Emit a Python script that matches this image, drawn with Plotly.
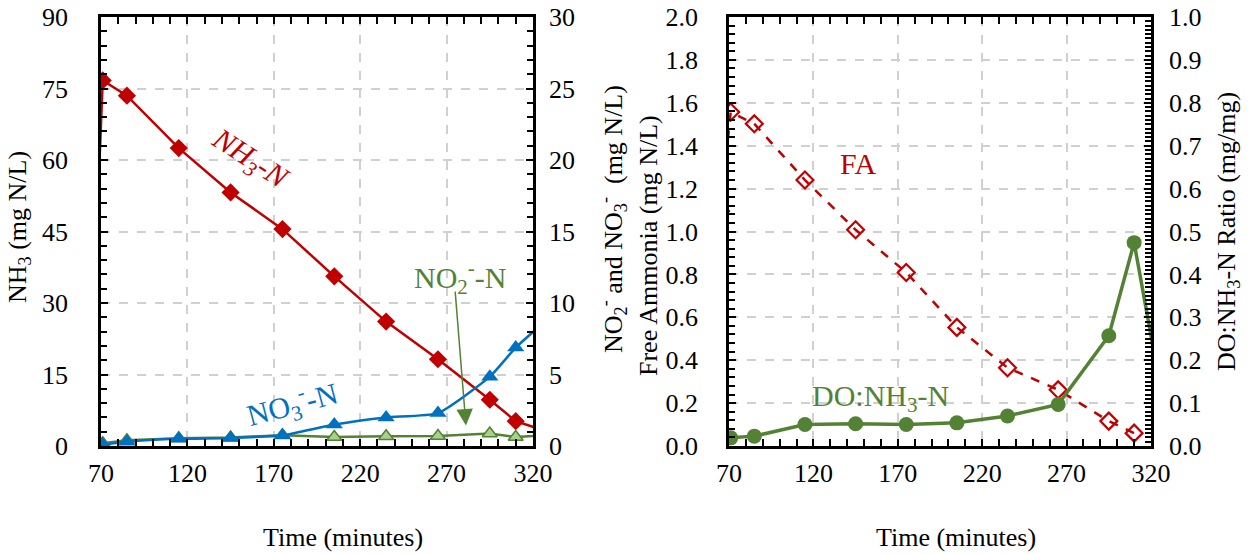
import plotly.graph_objects as go

# ---------------- data ----------------
time_min = [65, 71, 85, 115, 145, 175, 205, 235, 265, 295, 310, 325]
nh3 = [22.1, 76.7, 73.5, 62.5, 53.2, 45.5, 35.6, 26.1, 18.2, 9.7, 5.2, 3.4]
no3 = [None, 0.1, 0.3, 0.5, 0.56, 0.75, 1.5, 2.0, 2.3, 4.85, 6.88, 8.5]
no2 = [None, 0.2, 0.4, 0.55, 0.6, 0.75, 0.63, 0.68, 0.70, 0.87, 0.63, 0.74]
fa = [1.095, 1.557, 1.502, 1.240, 1.008, 0.809, 0.553, 0.365, 0.262, 0.116, 0.060, None]
do_ratio = [None, 0.019, 0.023, 0.050, 0.052, 0.050, 0.054, 0.070, 0.097, 0.257, 0.474, 0.149]

RED = "#C00000"
BLUE = "#0070C0"
GREEN = "#548235"
LGREEN = "#A9D18E"
FONT = "Liberation Serif, Times New Roman, Times, DejaVu Serif, serif"
FS = 26
FS_LBL = 30

fig = go.Figure()

fig.add_trace(go.Scatter(x=time_min, y=nh3, xaxis="x", yaxis="y", mode="lines+markers",
                         line=dict(color=RED, width=2.5),
                         marker=dict(symbol="diamond", size=14, color=RED), showlegend=False))
fig.add_trace(go.Scatter(x=time_min, y=no2, xaxis="x", yaxis="y2", mode="lines+markers",
                         line=dict(color=GREEN, width=2.5),
                         marker=dict(symbol="triangle-up", size=13, color=LGREEN,
                                     line=dict(color=GREEN, width=1.5)), showlegend=False))
fig.add_trace(go.Scatter(x=time_min, y=no3, xaxis="x", yaxis="y2", mode="lines+markers",
                         line=dict(color=BLUE, width=2.5, shape="spline", smoothing=0.5),
                         marker=dict(symbol="triangle-up", size=15, color=BLUE), showlegend=False))
fig.add_trace(go.Scatter(x=time_min, y=fa, xaxis="x2", yaxis="y3", mode="lines+markers",
                         line=dict(color=RED, width=2.5, dash="dash"),
                         marker=dict(symbol="diamond-open", size=13, color=RED,
                                     line=dict(color=RED, width=2.2)), showlegend=False))
fig.add_trace(go.Scatter(x=time_min, y=do_ratio, xaxis="x2", yaxis="y4", mode="lines+markers",
                         line=dict(color=GREEN, width=3.5),
                         marker=dict(symbol="circle", size=15, color=GREEN), showlegend=False))

tickfont = dict(family=FONT, size=FS, color="black")
GRID = dict(showgrid=True, gridcolor="#D0D0D0", gridwidth=1.5, griddash="dash")


def xax(domain, anchor, standoff):
    d = dict(domain=domain, anchor=anchor, range=[70, 320], tick0=70, dtick=50,
             ticks="inside", ticklen=7, tickwidth=2, tickcolor="black",
             minor=dict(ticks="inside", ticklen=6, tickwidth=2, dtick=10, tick0=70,
                        tickcolor="black", showgrid=False),
             showline=True, linewidth=2.5, linecolor="black", mirror="allticks",
             tickfont=tickfont, ticklabelstandoff=standoff, zeroline=False)
    d.update(GRID)
    return d


def yax(rng, dtick, mdtick, anchor, standoff, side="left", overlaying=None, grid=False, fmt=None):
    d = dict(range=rng, dtick=dtick, tick0=0, anchor=anchor, side=side,
             ticks="inside", ticklen=7, tickwidth=2, tickcolor="black",
             minor=dict(ticks="inside", ticklen=6, tickwidth=2, dtick=mdtick, tick0=0,
                        tickcolor="black", showgrid=False),
             showline=True, linewidth=2.5, linecolor="black",
             tickfont=tickfont, ticklabelstandoff=standoff, zeroline=False)
    if overlaying:
        d["overlaying"] = overlaying
    if fmt:
        d["tickformat"] = fmt
    if grid:
        d.update(GRID)
    else:
        d.update(showgrid=False)
    return d


def twin(base, extra):
    # outside half of the crossing major ticks
    d = dict(range=base["range"], dtick=base["dtick"], tick0=base["tick0"],
             ticks="outside", ticklen=7, tickwidth=2, tickcolor="black",
             showticklabels=False, showgrid=False, showline=False, zeroline=False)
    d.update(extra)
    return d


W, H = 1252, 554
TOP, BOT = 17, 446
D1 = [101 / W, 533 / W]
D2 = [729 / W, 1151 / W]

xa1 = xax(D1, "y", 2)
xa2 = xax(D2, "y3", 2)
ya1 = yax([0, 90], 15, 3, "x", 25, grid=True)
ya2 = yax([0, 30], 5, 1, "x", 8, side="right", overlaying="y")
ya3 = yax([0, 2.0], 0.2, 0.04, "x2", 23, grid=True, fmt=".1f")
ya4 = yax([0, 1.0], 0.1, 0.01, "x2", 10, side="right", overlaying="y3", fmt=".1f")

fig.update_layout(
    xaxis=xa1, xaxis2=xa2, yaxis=ya1, yaxis2=ya2, yaxis3=ya3, yaxis4=ya4,
    xaxis3=twin(xa1, dict(overlaying="x", anchor="y", domain=D1, mirror="allticks")),
    xaxis4=twin(xa2, dict(overlaying="x2", anchor="y3", domain=D2, mirror="allticks")),
    yaxis5=twin(ya1, dict(overlaying="y", anchor="x", side="left")),
    yaxis6=twin(ya2, dict(overlaying="y", anchor="x", side="right")),
    yaxis7=twin(ya3, dict(overlaying="y3", anchor="x2", side="left")),
    yaxis8=twin(ya4, dict(overlaying="y3", anchor="x2", side="right")),
)

ann = []


def title(text, x, y, angle=0):
    ann.append(dict(text=text, x=x / W, y=(BOT - y) / (BOT - TOP), xref="paper", yref="paper",
                    showarrow=False, textangle=angle, xanchor="center", yanchor="middle",
                    font=dict(family=FONT, size=FS, color="black")))


title("Time (minutes)", 343, 537)
title("Time (minutes)", 956, 537)
title("NH<sub>3</sub> (mg N/L)", 19, 227, -90)
title("NO<sub>2</sub><sup>-</sup> and NO<sub>3</sub><sup>-</sup>  (mg N/L)", 613, 219, -90)
title("Free Ammonia (mg N/L)", 648, 245, -90)
title("DO:NH<sub>3</sub>-N Ratio (mg/mg)", 1228, 232, -90)

# in-plot labels
ann.append(dict(text="<i>NH<sub>3</sub>-N</i>", x=156.2, y=59.9, xref="x", yref="y", showarrow=False,
                textangle=33, font=dict(family=FONT, size=FS_LBL, color=RED)))
ann.append(dict(text="NO<sub>3</sub><sup>-</sup>-N", x=181.0, y=8.8, xref="x", yref="y", showarrow=False,
                textangle=-15, font=dict(family=FONT, size=FS_LBL, color=BLUE)))
ann.append(dict(text="NO<sub>2</sub><sup>-</sup>-N", x=278.3, y=35.4, xref="x", yref="y", showarrow=False,
                font=dict(family=FONT, size=FS_LBL, color=GREEN)))
ann.append(dict(text="", x=281.2, y=4.3, xref="x", yref="y", ax=274.9, ay=32.7, axref="x", ayref="y",
                showarrow=True, arrowhead=2, arrowsize=2.2, arrowwidth=1.5, arrowcolor=GREEN))
ann.append(dict(text="FA", x=146.4, y=1.315, xref="x2", yref="y3", showarrow=False,
                font=dict(family=FONT, size=FS_LBL, color=RED)))
ann.append(dict(text="DO:NH<sub>3</sub>-N", x=159.5, y=0.222, xref="x2", yref="y3", showarrow=False,
                font=dict(family=FONT, size=FS_LBL, color=GREEN)))

fig.update_layout(
    annotations=ann,
    width=W, height=H,
    margin=dict(l=0, r=0, t=TOP, b=H - BOT, autoexpand=False),
    paper_bgcolor="white", plot_bgcolor="white",
    font=dict(family=FONT, size=FS, color="black"),
    showlegend=False,
)

fig.write_html("out.html", config={"displayModeBar": False},
               post_script="document.body.style.margin='0';document.body.style.overflow='hidden';")
